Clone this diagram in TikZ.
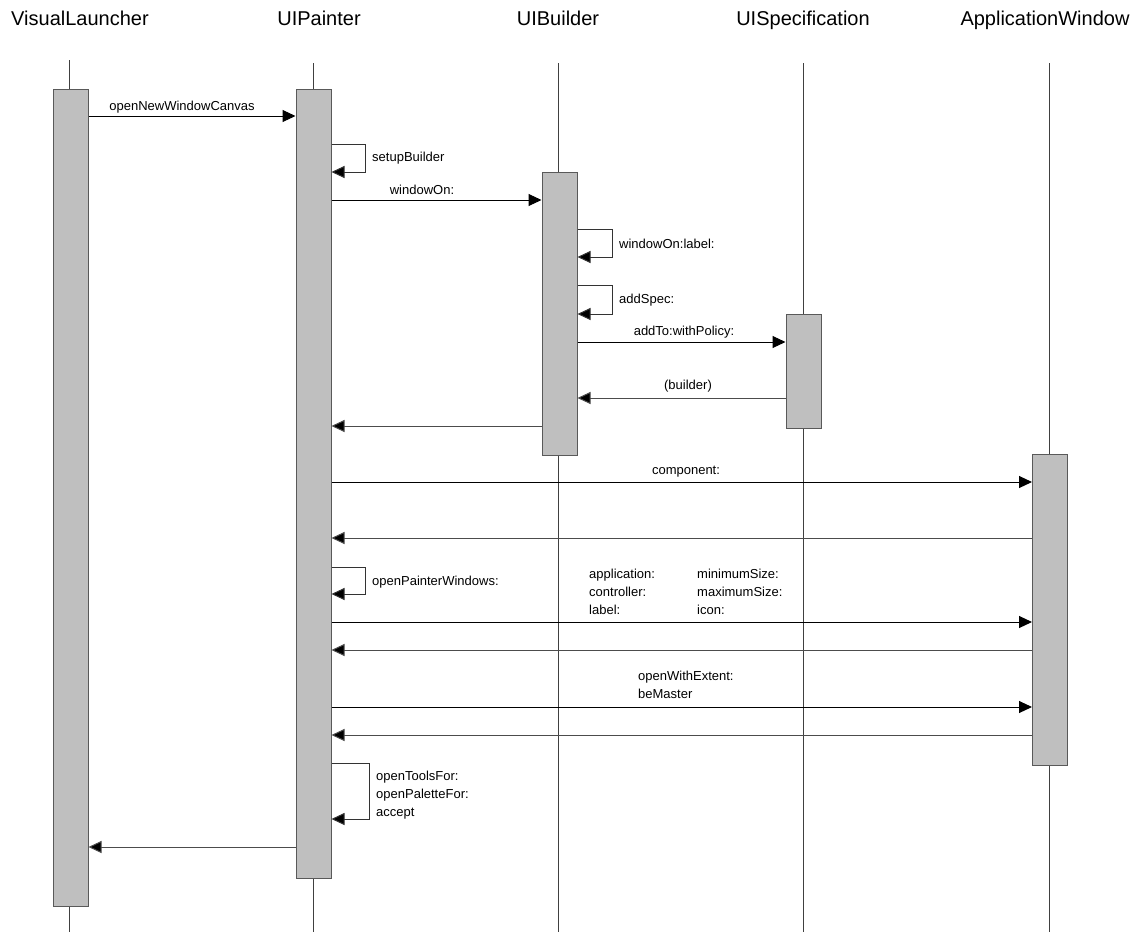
\documentclass[tikz,border=0pt]{standalone}
\usepackage{fontspec}
\setmainfont{Liberation Sans}
\usetikzlibrary{arrows.meta}
\begin{document}
\begin{tikzpicture}[x=1pt,y=-1pt,
  head/.style={font=\fontsize{20}{24}\selectfont, inner sep=0pt, anchor=base},
  lbl/.style={font=\fontsize{13}{18}\selectfont, inner sep=0pt, align=left},
  lifeline/.style={draw=black!75, line width=1pt},
  act/.style={draw=black!65, fill=black!25, line width=1pt, minimum width=35pt, inner sep=0pt, anchor=north},
  tip/.style={-{Triangle[length=13pt,width=12pt,fill=black]}},
  call/.style={draw=black, line width=1pt, tip},
  ret/.style={draw=black!70, line width=1pt, tip},
  self/.style={draw=black!80, line width=1pt, tip}]
\useasboundingbox (0,0) rectangle (1141,935);

% object headers
\node[head] (hVL) at (80,25) {VisualLauncher};
\node[head] (hUP) at (319,25) {UIPainter};
\node[head] (hUB) at (558,25) {UIBuilder};
\node[head] (hUS) at (803,25) {UISpecification};
\node[head] (hAW) at (1045,25) {ApplicationWindow};

% lifelines
\coordinate (tVL) at (69,60);  \coordinate (bVL) at (69,932);
\coordinate (tUP) at (313,63); \coordinate (bUP) at (313,932);
\coordinate (tUB) at (558,63); \coordinate (bUB) at (558,932);
\coordinate (tUS) at (803,63); \coordinate (bUS) at (803,932);
\coordinate (tAW) at (1049,63); \coordinate (bAW) at (1049,932);
\foreach \n in {VL,UP,UB,US,AW} \draw[lifeline] (t\n) -- (b\n);

% activation bars
\node[act, minimum height=817pt] (aVL) at (70.5,89) {};
\node[act, minimum height=789pt] (aUP) at (313.5,89) {};
\node[act, minimum height=283pt] (aUB) at (559.5,172) {};
\node[act, minimum height=114pt] (aUS) at (803.5,314) {};
\node[act, minimum height=311pt] (aAW) at (1050,454) {};

% loop corners of self calls
\coordinate (s1) at (365,144); \coordinate (s1b) at (365,172);
\coordinate (s2) at (612,229); \coordinate (s2b) at (612,257);
\coordinate (s3) at (612,285); \coordinate (s3b) at (612,314);
\coordinate (s4) at (365,567); \coordinate (s4b) at (365,594);
\coordinate (s5) at (369,763); \coordinate (s5b) at (369,819);

% messages
\draw[call] (aVL.east |- 0,116) -- (aUP.west |- 0,116);
\node[lbl] (m1) at (182,107) {openNewWindowCanvas};

\draw[self] (aUP.east |- s1) -- (s1) -- (s1b) -- (aUP.east |- s1b);
\node[lbl, anchor=west] (m2) at (372,158) {setupBuilder};

\draw[call] (aUP.east |- 0,200) -- (aUB.west |- 0,200);
\node[lbl] (m3) at (422,190) {windowOn:};

\draw[self] (aUB.east |- s2) -- (s2) -- (s2b) -- (aUB.east |- s2b);
\node[lbl, anchor=west] (m4) at (619,244) {windowOn:label:};

\draw[self] (aUB.east |- s3) -- (s3) -- (s3b) -- (aUB.east |- s3b);
\node[lbl, anchor=west] (m5) at (619,300) {addSpec:};

\draw[call] (aUB.east |- 0,342) -- (aUS.west |- 0,342);
\node[lbl] (m6) at (684,332) {addTo:withPolicy:};

\draw[ret] (aUS.west |- 0,398) -- (aUB.east |- 0,398);
\node[lbl] (m7) at (688,386) {(builder)};

\draw[ret] (aUB.west |- 0,426) -- (aUP.east |- 0,426);

\draw[call] (aUP.east |- 0,482) -- (aAW.west |- 0,482);
\node[lbl] (m8) at (686,472) {component:};

\draw[ret] (aAW.west |- 0,538) -- (aUP.east |- 0,538);

\draw[self] (aUP.east |- s4) -- (s4) -- (s4b) -- (aUP.east |- s4b);
\node[lbl, anchor=west] (m9) at (372,582) {openPainterWindows:};

\node[lbl, anchor=west] (m10a) at (589,592) {application:\\controller:\\label:};
\node[lbl, anchor=west] (m10b) at (697,592) {minimumSize:\\maximumSize:\\icon:};
\draw[call] (aUP.east |- 0,622) -- (aAW.west |- 0,622);

\draw[ret] (aAW.west |- 0,650) -- (aUP.east |- 0,650);

\node[lbl, anchor=west] (m11) at (638,685) {openWithExtent:\\beMaster};
\draw[call] (aUP.east |- 0,707) -- (aAW.west |- 0,707);

\draw[ret] (aAW.west |- 0,735) -- (aUP.east |- 0,735);

\draw[self] (aUP.east |- s5) -- (s5) -- (s5b) -- (aUP.east |- s5b);
\node[lbl, anchor=west] (m12) at (376,795) {openToolsFor:\\openPaletteFor:\\accept};

\draw[ret] (aUP.west |- 0,847) -- (aVL.east |- 0,847);
\end{tikzpicture}
\end{document}
